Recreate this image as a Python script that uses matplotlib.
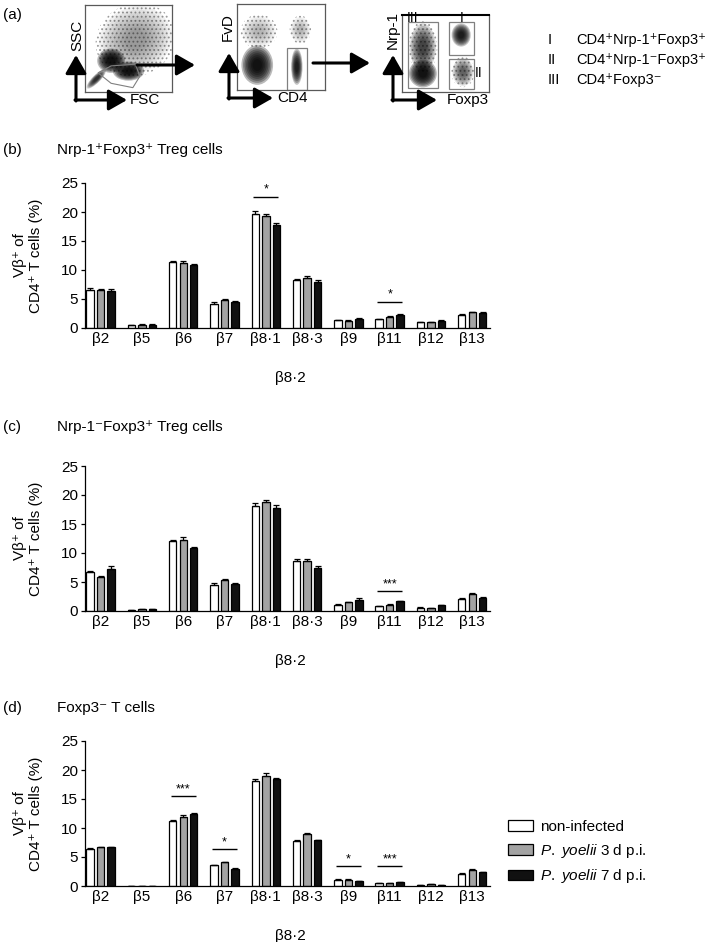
import numpy as np
import matplotlib
matplotlib.use('Agg')
import matplotlib.pyplot as plt
from matplotlib.patches import Ellipse, Rectangle, Polygon

plt.rcParams['font.family'] = ['Liberation Sans', 'DejaVu Sans']
plt.rcParams['mathtext.fontset'] = 'custom'
plt.rcParams['mathtext.rm'] = 'Liberation Sans'
plt.rcParams['mathtext.it'] = 'Liberation Sans:italic'
plt.rcParams['font.size'] = 11
plt.rcParams['hatch.linewidth'] = 0.8

W, H = 709, 942

# ---- bar chart data ----
categories = ['β2', 'β5', 'β6', 'β7', 'β8·1', 'β8·3', 'β9', 'β11', 'β12', 'β13']
group_labels = ['non-infected', r'$\it{P.\ yoelii}$ 3 d p.i.', r'$\it{P.\ yoelii}$ 7 d p.i.']
group_colors = ['white', '#a3a3a3', '#111111']

# (b) Nrp-1+Foxp3+ Treg cells
b_ni = [6.6, 0.5, 11.3, 4.2, 19.6, 8.3, 1.3, 1.5, 1.0, 2.3]
b_d3 = [6.5, 0.6, 11.2, 4.8, 19.3, 8.7, 1.2, 1.9, 1.0, 2.7]
b_d7 = [6.4, 0.6, 10.9, 4.5, 17.8, 8.0, 1.6, 2.2, 1.2, 2.6]
b_ni_err = [0.3, 0.1, 0.2, 0.2, 0.5, 0.2, 0.1, 0.1, 0.1, 0.1]
b_d3_err = [0.2, 0.1, 0.3, 0.2, 0.4, 0.2, 0.1, 0.2, 0.1, 0.1]
b_d7_err = [0.3, 0.1, 0.2, 0.2, 0.3, 0.3, 0.1, 0.2, 0.1, 0.1]
b_sig = [(4, '*', 22.6), (7, '*', 4.5)]

# (c) Nrp-1-Foxp3+ Treg cells
c_ni = [6.7, 0.2, 12.0, 4.4, 18.1, 8.6, 1.1, 0.8, 0.6, 2.1]
c_d3 = [5.9, 0.3, 12.2, 5.3, 18.8, 8.6, 1.5, 1.1, 0.5, 2.9]
c_d7 = [7.3, 0.3, 10.8, 4.7, 17.8, 7.5, 1.9, 1.7, 1.0, 2.3]
c_ni_err = [0.2, 0.05, 0.3, 0.5, 0.6, 0.3, 0.1, 0.1, 0.1, 0.1]
c_d3_err = [0.2, 0.05, 0.6, 0.3, 0.4, 0.3, 0.1, 0.1, 0.1, 0.2]
c_d7_err = [0.4, 0.05, 0.3, 0.2, 0.5, 0.2, 0.4, 0.1, 0.1, 0.2]
c_sig = [(7, '***', 3.4)]

# (d) Foxp3- T cells
d_ni = [6.4, 0.05, 11.2, 3.6, 18.1, 7.8, 1.1, 0.45, 0.2, 2.1]
d_d3 = [6.7, 0.05, 11.9, 4.1, 18.9, 8.9, 1.1, 0.55, 0.3, 2.8]
d_d7 = [6.7, 0.0, 12.5, 3.0, 18.4, 7.9, 0.8, 0.7, 0.2, 2.4]
d_ni_err = [0.1, 0.0, 0.1, 0.1, 0.4, 0.1, 0.05, 0.05, 0.05, 0.1]
d_d3_err = [0.1, 0.0, 0.3, 0.1, 0.6, 0.3, 0.05, 0.05, 0.05, 0.1]
d_d7_err = [0.1, 0.0, 0.1, 0.1, 0.2, 0.1, 0.05, 0.05, 0.05, 0.1]
d_sig = [(2, '***', 15.5), (3, '*', 6.3), (6, '*', 3.4), (7, '***', 3.4)]

yticks = [0, 5, 10, 15, 20, 25]

# ---- flow cytometry sketches (cluster centre x, y, width, height, angle, darkness) ----
flow1_clusters = [(0.58, 0.60, 0.85, 0.75, 25, 0.22), (0.30, 0.36, 0.32, 0.28, 0, 1.0),
                  (0.50, 0.24, 0.36, 0.22, 0, 1.0), (0.13, 0.15, 0.30, 0.09, 45, 0.7)]
flow2_clusters = [(0.25, 0.68, 0.38, 0.36, 0, 0.15), (0.72, 0.70, 0.22, 0.3, 0, 0.15),
                  (0.23, 0.29, 0.36, 0.46, 0, 1.0), (0.68, 0.27, 0.13, 0.42, 0, 0.85)]
flow3_clusters = [(0.24, 0.58, 0.30, 0.62, 0, 0.55), (0.24, 0.24, 0.32, 0.36, 0, 1.0),
                  (0.68, 0.74, 0.22, 0.30, 0, 0.85), (0.70, 0.26, 0.24, 0.36, 0, 0.4)]


def blob(ax, cx, cy, w, h, ang, k):
    if k < 0.6:
        ax.add_patch(Ellipse((cx, cy), w * 1.1, h * 1.1, angle=ang, fill=False,
                             hatch='....', edgecolor='0.6', lw=0))
    for s in np.linspace(1.0, 0.3, 8):
        ax.add_patch(Ellipse((cx, cy), w * s, h * s, angle=ang, color='k',
                             alpha=0.27 * k, lw=0))


def px_axes(fig, x0, y0, x1, y1):
    return fig.add_axes([x0 / W, 1 - y1 / H, (x1 - x0) / W, (y1 - y0) / H])


fig = plt.figure(figsize=(W / 100, H / 100), dpi=100)

flow_boxes = [(85, 5, 172, 92), (237, 4, 325, 90), (402, 15, 489, 92)]
for box, clusters in zip(flow_boxes, [flow1_clusters, flow2_clusters, flow3_clusters]):
    fa = px_axes(fig, *box)
    fa.set_xlim(0, 1)
    fa.set_ylim(0, 1)
    fa.set_xticks([])
    fa.set_yticks([])
    for sp in fa.spines.values():
        sp.set_color('0.35')
        sp.set_linewidth(0.9)
    for c in clusters:
        blob(fa, *c)
    if box == flow_boxes[0]:
        fa.add_patch(Polygon([(0.15, 0.22), (0.30, 0.10), (0.55, 0.05), (0.63, 0.18),
                              (0.58, 0.32), (0.30, 0.30)], fill=False, ec='0.5', lw=0.8))
    elif box == flow_boxes[1]:
        fa.add_patch(Rectangle((0.57, 0.0), 0.23, 0.49, fill=False, ec='0.5', lw=0.9))
    else:
        fa.spines['top'].set_color('k')
        fa.spines['top'].set_linewidth(1.5)
        fa.add_patch(Rectangle((0.07, 0.05), 0.34, 0.86, fill=False, ec='0.5', lw=0.9))
        fa.add_patch(Rectangle((0.54, 0.48), 0.29, 0.43, fill=False, ec='0.5', lw=0.9))
        fa.add_patch(Rectangle((0.54, 0.04), 0.29, 0.39, fill=False, ec='0.5', lw=0.9))

# ---- bar panels ----
panel_data = [
    (183, 328, [b_ni, b_d3, b_d7], [b_ni_err, b_d3_err, b_d7_err], b_sig),
    (466, 611, [c_ni, c_d3, c_d7], [c_ni_err, c_d3_err, c_d7_err], c_sig),
    (741, 886, [d_ni, d_d3, d_d7], [d_ni_err, d_d3_err, d_d7_err], d_sig),
]
x = np.arange(len(categories))
offsets = [-0.254, 0.0, 0.254]
bw = 0.18
bar_axes = []
for top, bottom, means, errs, sig in panel_data:
    ax = px_axes(fig, 85, top, 490, bottom)
    bar_axes.append(ax)
    handles = []
    for m, e, off, col, lab in zip(means, errs, offsets, group_colors, group_labels):
        bc = ax.bar(x + off, m, bw, color=col, edgecolor='k', linewidth=0.9, label=lab, zorder=2,
                    yerr=[np.zeros(len(e)), e], capsize=2.2,
                    error_kw=dict(elinewidth=0.9, capthick=0.9, ecolor='k'))
        handles.append(bc)
    for i, s, yv in sig:
        ax.plot([i - 0.3, i + 0.3], [yv, yv], color='k', lw=1.0, solid_capstyle='butt')
        ax.text(i, yv + 0.2, s, ha='center', va='bottom', fontsize=9)
    ax.set_xlim(-0.38, 9.43)
    ax.set_ylim(0, 25)
    ax.set_yticks(yticks)
    ax.set_xticks(x)
    ax.set_xticklabels(categories)
    ax.tick_params(axis='x', length=0, pad=3, labelsize=11)
    ax.tick_params(axis='y', length=3, width=0.9, pad=2, labelsize=11)
    for sp in ['top', 'right']:
        ax.spines[sp].set_visible(False)
    for sp in ['left', 'bottom']:
        ax.spines[sp].set_linewidth(0.9)
    ax.set_ylabel('Vβ⁺ of\nCD4⁺ T cells (%)', fontsize=11, labelpad=13, linespacing=1.15)
    ax.annotate('β8·2', xy=(4.59, 0), xycoords=('data', 'axes fraction'),
                xytext=(0, -36), textcoords='offset points', ha='center', va='center', fontsize=11)

leg = bar_axes[2].legend(handles=handles, loc='upper left', frameon=False,
                         bbox_to_anchor=(508 / W, 1 - 820 / H), bbox_transform=fig.transFigure,
                         borderpad=0, borderaxespad=0, handlelength=1.65, handleheight=0.7,
                         handletextpad=0.45, labelspacing=0.5, fontsize=11)

# ---- overlay for panel (a) arrows and text ----
axo = fig.add_axes([0, 0, 1, 1])
axo.set_xlim(0, W)
axo.set_ylim(H, 0)
axo.axis('off')
axo.patch.set_alpha(0)


def arrow(x1, y1, x2, y2):
    axo.annotate('', xy=(x2, y2), xytext=(x1, y1),
                 arrowprops=dict(arrowstyle='-|>,head_length=0.7,head_width=0.4', lw=2.2,
                                 color='k', shrinkA=0, shrinkB=0, mutation_scale=16))


# axis arrows (corner x, corner y, top y, right x)
for cx, cy, ty, rx in [(76, 100, 55, 127), (229, 98, 53, 273), (393, 100, 55, 437)]:
    arrow(cx, cy + 1, cx, ty)
    arrow(cx - 1, cy, rx, cy)
arrow(137, 65, 195, 65)
arrow(313, 63, 370, 63)

axo.text(77, 35, 'SSC', rotation=90, ha='center', va='center', fontsize=11)
axo.text(130, 100, 'FSC', ha='left', va='center', fontsize=11)
axo.text(228, 27, 'FvD', rotation=90, ha='center', va='center', fontsize=11)
axo.text(277, 98, 'CD4', ha='left', va='center', fontsize=11)
axo.text(393, 30, 'Nrp-1', rotation=90, ha='center', va='center', fontsize=11)
axo.text(447, 100, 'Foxp3', ha='left', va='center', fontsize=11)
axo.text(413, 18, 'III', ha='center', va='center', fontsize=10)
axo.text(462, 18, 'I', ha='center', va='center', fontsize=10)
axo.text(479, 73, 'II', ha='center', va='center', fontsize=10)

for y, roman, lab in [(40, 'I', 'CD4⁺Nrp-1⁺Foxp3⁺'), (60, 'II', 'CD4⁺Nrp-1⁻Foxp3⁺'),
                      (80, 'III', 'CD4⁺Foxp3⁻')]:
    axo.text(548, y, roman, ha='left', va='center', fontsize=10.5)
    axo.text(576, y, lab, ha='left', va='center', fontsize=10.5)

axo.text(3, 15, '(a)', ha='left', va='center', fontsize=11)
for y, letter, title in [(150, '(b)', 'Nrp-1⁺Foxp3⁺ Treg cells'), (427, '(c)', 'Nrp-1⁻Foxp3⁺ Treg cells'),
                         (708, '(d)', 'Foxp3⁻ T cells')]:
    axo.text(3, y, letter, ha='left', va='center', fontsize=11)
    axo.text(57, y, title, ha='left', va='center', fontsize=11)

fig.savefig('out.png', dpi=100)
